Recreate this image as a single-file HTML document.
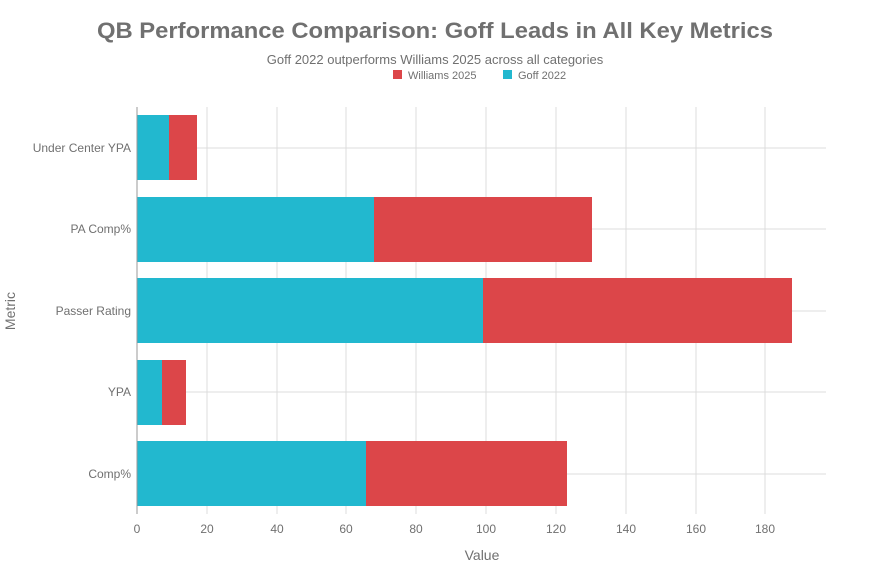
<!DOCTYPE html>
<html><head><style>body{margin:0;background:#fff}</style></head><body>
<svg width="870" height="580" xmlns="http://www.w3.org/2000/svg" font-family="Liberation Sans, sans-serif">
<rect width="870" height="580" fill="#fff"/>
<text x="435" y="38" text-anchor="middle" font-size="22" font-weight="bold" fill="#707070" textLength="676" lengthAdjust="spacingAndGlyphs">QB Performance Comparison: Goff Leads in All Key Metrics</text>
<text x="435" y="64" text-anchor="middle" font-size="13" fill="#707070">Goff 2022 outperforms Williams 2025 across all categories</text>
<rect x="393" y="70" width="9" height="9" fill="#dc4649"/>
<text x="408" y="79" font-size="11" fill="#707070">Williams 2025</text>
<rect x="503" y="70" width="9" height="9" fill="#22b8cf"/>
<text x="518" y="79" font-size="11" fill="#707070">Goff 2022</text>
<g stroke="#dcdcdc" stroke-width="1">
<line x1="207" y1="107" x2="207" y2="514"/><line x1="277" y1="107" x2="277" y2="514"/>
<line x1="346" y1="107" x2="346" y2="514"/><line x1="416" y1="107" x2="416" y2="514"/>
<line x1="486" y1="107" x2="486" y2="514"/><line x1="556" y1="107" x2="556" y2="514"/>
<line x1="626" y1="107" x2="626" y2="514"/><line x1="696" y1="107" x2="696" y2="514"/>
<line x1="765" y1="107" x2="765" y2="514"/>
<line x1="137" y1="148" x2="826" y2="148"/><line x1="137" y1="229" x2="826" y2="229"/>
<line x1="137" y1="311" x2="826" y2="311"/><line x1="137" y1="392" x2="826" y2="392"/>
<line x1="137" y1="474" x2="826" y2="474"/>
</g>
<g fill="#22b8cf">
<rect x="137" y="115" width="32" height="65"/>
<rect x="137" y="197" width="237" height="65"/>
<rect x="137" y="278" width="346" height="65"/>
<rect x="137" y="360" width="25" height="65"/>
<rect x="137" y="441" width="229" height="65"/>
</g>
<g fill="#dc4649">
<rect x="169" y="115" width="28" height="65"/>
<rect x="374" y="197" width="218" height="65"/>
<rect x="483" y="278" width="309" height="65"/>
<rect x="162" y="360" width="24" height="65"/>
<rect x="366" y="441" width="201" height="65"/>
</g>
<line x1="137" y1="107" x2="137" y2="514" stroke="#999"/>
<g font-size="12" fill="#707070" text-anchor="end">
<text x="131" y="152">Under Center YPA</text>
<text x="131" y="233">PA Comp%</text>
<text x="131" y="315">Passer Rating</text>
<text x="131" y="396">YPA</text>
<text x="131" y="478">Comp%</text>
</g>
<g font-size="12" fill="#707070" text-anchor="middle">
<text x="137" y="533">0</text><text x="207" y="533">20</text><text x="277" y="533">40</text>
<text x="346" y="533">60</text><text x="416" y="533">80</text><text x="486" y="533">100</text>
<text x="556" y="533">120</text><text x="626" y="533">140</text><text x="696" y="533">160</text>
<text x="765" y="533">180</text>
</g>
<text x="482" y="560" text-anchor="middle" font-size="14" fill="#707070">Value</text>
<text transform="translate(15,311) rotate(-90)" text-anchor="middle" font-size="14" fill="#707070">Metric</text>
</svg>
</body></html>
